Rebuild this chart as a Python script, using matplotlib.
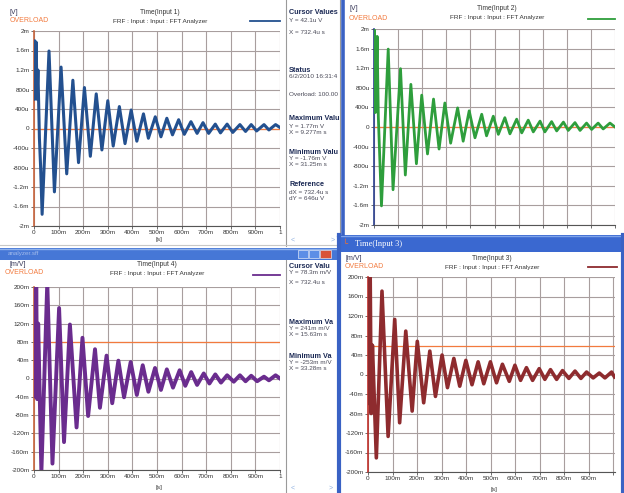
import matplotlib
matplotlib.use('Agg')
import matplotlib.pyplot as plt
from matplotlib.patches import Rectangle
from matplotlib.lines import Line2D

# ---------------- data ----------------
# Time(Input 1)  [V], values in mV
t_in1 = [0.000, 0.003, 0.006, 0.009, 0.012, 0.016, 0.022, 0.027, 0.033,
         0.061, 0.083, 0.110, 0.133, 0.158, 0.181, 0.205, 0.229, 0.253, 0.276,
         0.300, 0.322, 0.347, 0.370, 0.395, 0.418, 0.445, 0.465, 0.493, 0.516,
         0.540, 0.563, 0.588, 0.611, 0.638, 0.663, 0.687, 0.710, 0.737, 0.758,
         0.785, 0.808, 0.837, 0.860, 0.883, 0.905, 0.935, 0.955, 0.982, 1.000]
v_in1 = [0.6, 1.8, 0.7, 1.77, 0.6, 1.2, -0.2, -0.8, -1.76,
         1.59, -1.30, 1.26, -0.93, 0.99, -0.70, 0.84, -0.57, 0.71, -0.44,
         0.57, -0.36, 0.45, -0.31, 0.38, -0.26, 0.30, -0.20, 0.24, -0.17,
         0.21, -0.13, 0.18, -0.12, 0.14, -0.10, 0.12, -0.10, 0.09, -0.09,
         0.09, -0.08, 0.08, -0.06, 0.08, -0.05, 0.08, -0.03, 0.08, 0.02]

# Time(Input 2)  [V], values in mV
t_in2 = [0.000, 0.002, 0.007, 0.013, 0.018, 0.031,
         0.059, 0.079, 0.110, 0.130, 0.153, 0.176, 0.198, 0.222, 0.247, 0.270,
         0.294, 0.318, 0.347, 0.370, 0.395, 0.419, 0.447, 0.467, 0.495, 0.516,
         0.543, 0.564, 0.592, 0.613, 0.640, 0.661, 0.689, 0.709, 0.737, 0.758,
         0.786, 0.806, 0.834, 0.855, 0.882, 0.903, 0.930, 0.951, 0.979, 1.000]
v_in2 = [0.3, 1.98, 0.3, 1.85, 0.2, -1.61,
         1.59, -1.28, 1.19, -0.98, 0.87, -0.75, 0.65, -0.55, 0.57, -0.45,
         0.49, -0.33, 0.39, -0.29, 0.33, -0.22, 0.26, -0.18, 0.22, -0.15,
         0.19, -0.14, 0.16, -0.12, 0.14, -0.10, 0.12, -0.10, 0.11, -0.08,
         0.10, -0.07, 0.09, -0.07, 0.08, -0.05, 0.08, -0.04, 0.08, 0.0]

# Time(Input 4)  [m/V], values in milli
t_in4 = [0.000, 0.003, 0.006, 0.009, 0.013, 0.017, 0.030,
         0.054, 0.075, 0.102, 0.122, 0.146, 0.173, 0.197, 0.220, 0.248, 0.268,
         0.295, 0.318, 0.343, 0.366, 0.393, 0.418, 0.442, 0.465, 0.492, 0.516,
         0.540, 0.565, 0.592, 0.615, 0.639, 0.663, 0.690, 0.713, 0.737, 0.760,
         0.785, 0.812, 0.837, 0.860, 0.883, 0.907, 0.935, 0.955, 0.982, 1.000]
v_in4 = [0, 215, -40, 215, -45, 120, -205,
         210, -186, 154, -139, 118, -107, 89, -82, 64, -64,
         50, -54, 39, -41, 36, -36, 29, -29, 23, -25,
         20, -20, 18, -16, 14, -14, 11, -11, 9, -9,
         7, -7, 7, -6, 6, -6, 4, -4, 7, 0]

# Time(Input 3)  [m/V], values in milli
t_in3 = [0.000, 0.003, 0.006, 0.009, 0.013, 0.018, 0.034,
         0.057, 0.082, 0.109, 0.129, 0.154, 0.180, 0.201, 0.227, 0.252, 0.275,
         0.302, 0.324, 0.350, 0.374, 0.399, 0.424, 0.449, 0.472, 0.499, 0.524,
         0.548, 0.576, 0.599, 0.622, 0.646, 0.671, 0.698, 0.721, 0.744, 0.769,
         0.793, 0.819, 0.844, 0.868, 0.891, 0.918, 0.943, 0.966, 0.993, 1.005]
v_in3 = [0, 205, -60, 200, -80, 60, -171,
         171, -127, 113, -99, 89, -75, 68, -58, 48, -45,
         40, -27, 33, -24, 29, -21, 26, -19, 26, -17,
         21, -14, 19, -12, 14, -12, 12, -10, 10, -10,
         8, -8, 7, -8, 5, -7, 3, -7, 5, -5]

ref_in1 = 0.0
ref_in2 = 0.0
ref_in4 = 80.0
ref_in3 = 58.0

yt_v = [2, 1.6, 1.2, 0.8, 0.4, 0, -0.4, -0.8, -1.2, -1.6, -2]
yl_v = ['2m', '1.6m', '1.2m', '800u', '400u', '0', '-400u', '-800u', '-1.2m', '-1.6m', '-2m']
yt_m = [200, 160, 120, 80, 40, 0, -40, -80, -120, -160, -200]
yl_m = ['200m', '160m', '120m', '80m', '40m', '0', '-40m', '-80m', '-120m', '-160m', '-200m']
xt = [0, 0.1, 0.2, 0.3, 0.4, 0.5, 0.6, 0.7, 0.8, 0.9, 1.0]
xl = ['0', '100m', '200m', '300m', '400m', '500m', '600m', '700m', '800m', '900m', '1']

side_top = [("Cursor Values", True), ("Y = 42.1u V", False), ("X = 732.4u s", False),
            ("Status", True), ("6/2/2010 16:31:4", False), ("Overload: 100.00", False),
            ("Maximum Valu", True), ("Y = 1.77m V", False), ("X = 9.277m s", False),
            ("Minimum Valu", True), ("Y = -1.76m V", False), ("X = 31.25m s", False),
            ("Reference", True), ("dX = 732.4u s", False), ("dY = 646u V", False)]
side_top_y = [13, 20, 33, 70, 77, 94, 118, 126, 132, 152, 159, 165, 184, 192, 198]
side_bot = [("Cursor Valu", True), ("Y = 78.3m m/V", False), ("X = 732.4u s", False),
            ("Maximum Va", True), ("Y = 241m m/V", False), ("X = 15.63m s", False),
            ("Minimum Va", True), ("Y = -253m m/V", False), ("X = 33.28m s", False)]
side_bot_y = [266, 272, 283, 322, 329, 334, 357, 363, 368]

# ---------------- style ----------------
W, H = 624, 493
FONT = ['Liberation Sans Narrow', 'Liberation Sans', 'DejaVu Sans']
plt.rcParams['font.family'] = FONT
ORANGE = '#f27a3e'
GRID = '#a89e9e'
WBLUE = '#3a62c4'

fig = plt.figure(figsize=(6.24, 4.93), dpi=100)
fig.patch.set_facecolor('white')


def box(x0, y0, x1, y1):
    return [x0 / W, 1 - y1 / H, (x1 - x0) / W, (y1 - y0) / H]


def fx(x):
    return x / W


def fy(y):
    return 1 - y / H


def rect(x0, y0, x1, y1, fc, ec='none', lw=0, z=-5):
    fig.patches.append(Rectangle((fx(x0), fy(y1)), (x1 - x0) / W, (y1 - y0) / H,
                                 transform=fig.transFigure, facecolor=fc,
                                 edgecolor=ec, linewidth=lw, zorder=z))


def vline(x, y0, y1, c, lw, z=-4):
    fig.lines.append(Line2D([fx(x), fx(x)], [fy(y0), fy(y1)], transform=fig.transFigure,
                            color=c, linewidth=lw, zorder=z))


def hline(y, x0, x1, c, lw, z=-4):
    fig.lines.append(Line2D([fx(x0), fx(x1)], [fy(y), fy(y)], transform=fig.transFigure,
                            color=c, linewidth=lw, zorder=z))


def ftext(x, y, s, z=-3, **kw):
    fig.text(fx(x), fy(y), s, zorder=z, **kw)


# window frames / side panels
rect(0, 0, 343, 247, 'white', z=-6)
vline(286, 0, 246, '#9a9a9a', 0.8)
vline(339.5, 0, 246, '#9a9a9a', 0.8)
hline(245, 0, 343, '#c8c8c8', 0.8)
ftext(291, 240.5, '<', color='#8fb0e0', fontsize=5, va='center')
ftext(331, 240.5, '>', color='#8fb0e0', fontsize=5, va='center')

# window 3 title bar
rect(0, 248, 337, 260, '#4677d6', z=-6)
hline(248.5, 0, 337, '#8fb2ec', 1.0, z=-5)
ftext(8, 254, 'analyzer.sff', color='#c9d8f5', fontsize=4.5, va='center', alpha=0.7, z=-5)
rect(298, 250, 308, 258, '#5c8ee6', ec='white', lw=0.4, z=-5)
rect(309, 250, 319, 258, '#5c8ee6', ec='white', lw=0.4, z=-5)
rect(320, 250, 331, 258, '#d9533a', ec='white', lw=0.4, z=-5)
vline(286, 260, 493, '#9a9a9a', 0.8)
ftext(291, 488, '<', color='#8fb0e0', fontsize=5, va='center')
ftext(329, 488, '>', color='#8fb0e0', fontsize=5, va='center')

for (s, b), y in zip(side_top, side_top_y):
    ftext(289, y, s, fontsize=5.2 if b else 4.6, fontweight='bold' if b else 'normal',
          color='#1c2a55' if b else '#4a4a58', va='center', ha='left')
for (s, b), y in zip(side_bot, side_bot_y):
    ftext(289, y, s, fontsize=5.2 if b else 4.6, fontweight='bold' if b else 'normal',
          color='#1c2a55' if b else '#4a4a58', va='center', ha='left')

# window 2 (top right)
rect(343, 0, 624, 234, 'white', z=-2)
vline(343, 0, 234, WBLUE, 2.6, z=-1.5)
# window 4 (bottom right)
rect(337, 235, 624, 493, 'white', z=-2)
rect(337, 235, 624, 252, '#3a68d0', z=-1.8)
hline(235.5, 337, 624, '#7fa4ea', 1.0, z=-1.7)
vline(338.5, 235, 493, WBLUE, 3, z=-1.5)
vline(622.5, 235, 493, WBLUE, 3, z=-1.5)
ftext(355, 243.5, 'Time(Input 3)', color='white', fontsize=6, va='center', z=-1.4,
      family=['Liberation Serif', 'DejaVu Serif'])
ftext(343, 243.5, '\u2514', color='#f07030', fontsize=6, va='center', z=-1.4,
      family=['DejaVu Sans'])


def panel(rect_px, t, v, color, lw, ylim, yt, yl, xlim, xticklabels, ref, spine_col,
          unit, title, unit_xy, over_xy, title_xy, leg_x, leg_y, sx_y=None):
    ax = fig.add_axes(box(*rect_px))
    ax.set_facecolor('white')
    ax.plot(t, v, color=color, lw=lw, solid_joinstyle='round', zorder=3)
    ax.axhline(ref, color=ORANGE, lw=0.9, zorder=2)
    ax.set_xlim(*xlim)
    ax.set_ylim(*ylim)
    ax.set_yticks(yt)
    ax.set_yticklabels(yl)
    ax.set_xticks(xt)
    if xticklabels is None:
        ax.set_xticklabels([])
    else:
        ax.set_xticklabels(xticklabels)
    ax.grid(True, color=GRID, lw=0.8)
    ax.set_axisbelow(True)
    for s in ['top', 'right']:
        ax.spines[s].set_visible(False)
    ax.spines['left'].set_color(spine_col)
    ax.spines['left'].set_linewidth(1.2)
    ax.spines['bottom'].set_color('#555555')
    ax.spines['bottom'].set_linewidth(0.8)
    ax.tick_params(axis='both', labelsize=4.6, length=2, width=0.5, pad=1.2,
                   colors='#333333')
    ftext(unit_xy[0], unit_xy[1], unit, fontsize=5, color='#333355', va='center', z=1)
    ftext(over_xy[0], over_xy[1], 'OVERLOAD', fontsize=5, color=ORANGE, va='center', z=1)
    ftext(title_xy[0], title_xy[1], title, fontsize=4.8, color='#333333', va='center',
          ha='center', z=1)
    ftext(title_xy[0], title_xy[1] + 9, 'FRF : Input : Input : FFT Analyzer', fontsize=4.6,
          color='#333333', va='center', ha='center', z=1)
    hline(leg_y, leg_x[0], leg_x[1], color, 1.3, z=1)
    if sx_y is not None:
        ftext((rect_px[0] + rect_px[2]) / 2 + 2, sx_y, '[s]', fontsize=4.6, color='#333333',
              va='center', ha='center', z=1)
    return ax


panel((34, 31, 280, 226), t_in1, v_in1, '#23508f', 2.2, (-2, 2), yt_v, yl_v, (0, 1), xl,
      ref_in1, '#c8643c', '[V]', 'Time(Input 1)', (10, 12), (10, 21), (160, 12), (250, 280), 21,
      sx_y=240)
panel((374, 29, 615, 225), t_in2, v_in2, '#2e9e3c', 2.0, (-2, 2), yt_v, yl_v, (0, 1), None,
      ref_in2, '#2a3f8f', '[V]', 'Time(Input 2)', (349, 9), (349, 19), (497, 9), (588, 615), 19)
panel((34, 287, 280, 470), t_in4, v_in4, '#6a2c8e', 2.8, (-200, 200), yt_m, yl_m, (0, 1), xl,
      ref_in4, '#c8643c', '[m/V]', 'Time(Input 4)', (9, 264), (5, 273), (157, 265), (253, 280),
      275, sx_y=487)
panel((368, 277, 615, 472), t_in3, v_in3, '#8e2b2e', 2.6, (-200, 200), yt_m, yl_m, (0, 1.007),
      xl[:-1] + [''], ref_in3, '#c0302a', '[m/V]', 'Time(Input 3)', (345, 258), (345, 267),
      (492, 258), (588, 617), 267, sx_y=489)

fig.savefig('out.png', dpi=100, facecolor='white')
